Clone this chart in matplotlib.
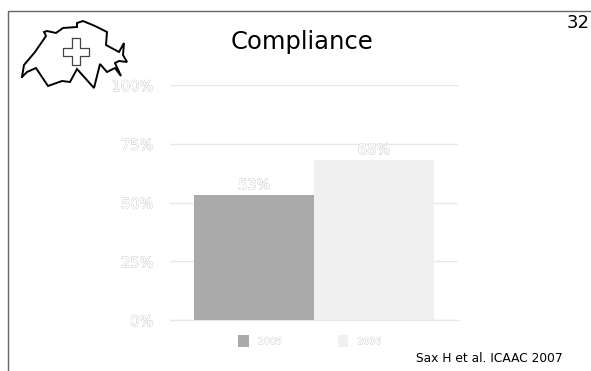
import matplotlib
matplotlib.use('Agg')
import matplotlib.pyplot as plt
import matplotlib.patheffects as pe
from matplotlib.patches import Patch

W, H = 591, 371

#chart values
years = ['2005', '2006']
compliance = [53, 68]
yticks = [0, 25, 50, 75, 100]
ytick_labels = ['0%', '25%', '50%', '75%', '100%']
bar_colors = ['#aaaaaa', '#f0f0f0']

#swiss outline and cross for the logo, in picture pixels
map_x = [22, 24, 35, 46, 44, 47, 56, 63, 77, 77, 83, 95, 107, 106, 119, 124, 123, 127, 119, 115, 121, 115, 107, 100, 94, 77, 70, 62, 48, 36, 27, 22]
map_y = [77, 65, 52, 36, 32, 31, 33, 28, 27, 23, 21, 26, 32, 45, 52, 43, 55, 62, 61, 63, 76, 68, 72, 64, 88, 69, 82, 81, 86, 68, 72, 77]
cross_x = [72, 80, 80, 89, 89, 80, 80, 72, 72, 63, 63, 72, 72]
cross_y = [38, 38, 48, 48, 56, 56, 65, 65, 56, 56, 48, 48, 38]

outline = [pe.withStroke(linewidth=0.6, foreground='#b4b4b4'), pe.Normal()]

fig = plt.figure(figsize=(W / 100, H / 100), dpi=100, facecolor='white')

#overlay in pixel coords for the slide decoration
bg = fig.add_axes([0, 0, 1, 1])
bg.set_xlim(0, W)
bg.set_ylim(H, 0)
bg.axis('off')
bg.plot([8, 8, W], [H, 10.5, 10.5], color='#666666', lw=1.0)
bg.plot(map_x, map_y, color='black', lw=1.4, solid_joinstyle='miter')
bg.plot(cross_x, cross_y, color='#444444', lw=0.9)
bg.text(302, 42, 'Compliance', fontsize=17.5, ha='center', va='center', color='black')
bg.text(590, 23, '32', fontsize=13, ha='right', va='center', color='black')
bg.text(563, 358, 'Sax H et al. ICAAC 2007', fontsize=8.8, ha='right', va='center', color='black')

#bar chart
ax = fig.add_axes([170 / W, 1 - 320 / H, 288 / W, 235 / H])
ax.patch.set_alpha(0)
bars = ax.bar(range(len(years)), compliance, width=1.0, color=bar_colors, edgecolor='none', zorder=3)
ax.set_xlim(-0.7, 1.7)
ax.set_ylim(0, 100)
ax.set_yticks(yticks)
ax.set_yticklabels(ytick_labels, fontsize=10.5, color='white', path_effects=outline)
ax.set_xticks([])
ax.tick_params(axis='y', length=0, pad=12)
ax.grid(axis='y', color='#e8e8e8', lw=1.0, zorder=1)
ax.set_axisbelow(True)
for s in ax.spines.values():
    s.set_visible(False)
ax.spines['bottom'].set_visible(True)
ax.spines['bottom'].set_color('#e8e8e8')
ax.spines['bottom'].set_linewidth(1.0)

for i, v in enumerate(compliance):
    ax.text(i, v + 1.3, str(v) + '%', fontsize=10.5, ha='center', va='bottom', color='white', path_effects=outline, zorder=4)

handles = [Patch(facecolor=c, edgecolor='none', label=y) for c, y in zip(bar_colors, years)]
leg = ax.legend(handles=handles, loc='center left', bbox_to_anchor=(238 / W, 1 - 341 / H, 100 / W, 0), bbox_transform=fig.transFigure,
                ncol=2, frameon=False, fontsize=6.8, handlelength=1.15, handleheight=1.6, handletextpad=0.95, columnspacing=5.9, borderpad=0, borderaxespad=0)
for t in leg.get_texts():
    t.set_color('white')
    t.set_path_effects([pe.withStroke(linewidth=0.5, foreground='#b8b8b8'), pe.Normal()])

fig.savefig('out.png', dpi=100)
